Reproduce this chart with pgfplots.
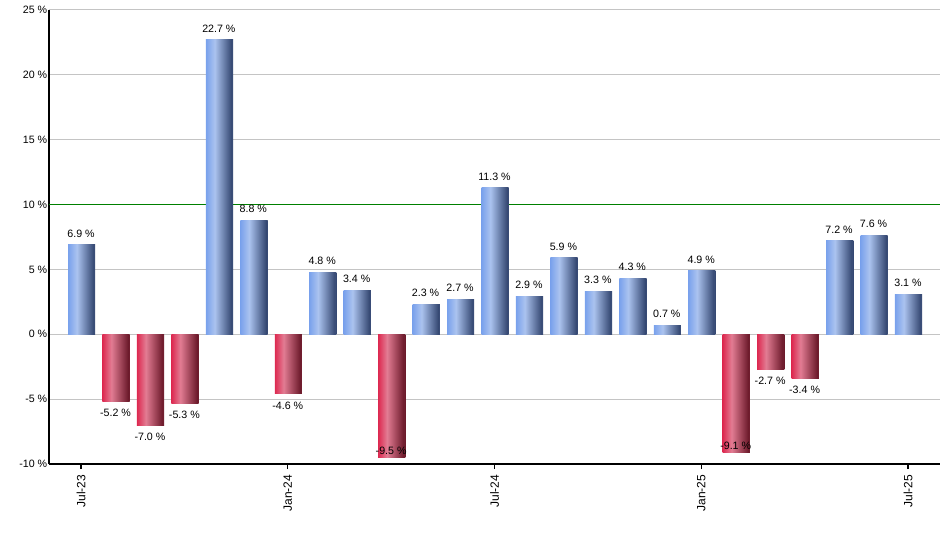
\documentclass[border=0pt]{standalone}
\usepackage{fontspec}
\setmainfont{Liberation Sans}
\usepackage{pgfplots}
\pgfplotsset{compat=1.18}

\definecolor{bL}{HTML}{79A1EC}
\definecolor{bM}{HTML}{ABC3EF}
\definecolor{bR}{HTML}{334670}
\definecolor{rL}{HTML}{DD2950}
\definecolor{rM}{HTML}{E27C93}
\definecolor{rR}{HTML}{6A1829}
\definecolor{gridgray}{HTML}{C4C4C4}
\definecolor{refgreen}{HTML}{008000}

% colour runs left to right across each bar
\pgfdeclarehorizontalshading{bluebar}{100bp}{color(0bp)=(bL); color(25bp)=(bL); color(42bp)=(bM); color(75bp)=(bR); color(100bp)=(bR)}
\pgfdeclarehorizontalshading{redbar}{100bp}{color(0bp)=(rL); color(25bp)=(rL); color(42bp)=(rM); color(75bp)=(rR); color(100bp)=(rR)}

\newcommand\pct{\pgfmathprintnumber[fixed,fixed zerofill,precision=1]{\pgfplotspointmeta}~\%}

\pgfplotsset{
  bar/.style={ybar, bar width=19.5pt, bar shift=0pt, draw=none,
    preaction={fill=black!35, transform canvas={xshift=0.9pt}}},
  up/.style={bar, shading=bluebar, nodes near coords=\pct},
  down/.style={bar, shading=redbar, nodes near coords=\pct},
  % deep bars: label sits inside the bar end
  deep/.style={bar, shading=redbar, nodes near coords=\pct,
    every node near coord/.append style={anchor=south, inner sep=2.2pt}},
}

\begin{document}
\begin{tikzpicture}
\useasboundingbox (-36.75pt,-64.5pt) rectangle (668.25pt,348pt);
\begin{axis}[
  scale only axis,
  width=668.25pt, height=340.5pt,
  xmin=-0.93, xmax=24.93, ymin=-10, ymax=25,
  axis x line*=bottom, axis y line*=left,
  axis line style={-, line width=1.2pt, black},
  xtick={0,6,12,18,24},
  xticklabels={Jul-23,Jan-24,Jul-24,Jan-25,Jul-25},
  ytick={-10,-5,...,25},
  /pgf/number format/assume math mode=true,
  yticklabel={\pgfmathprintnumber{\tick}~\%},
  ymajorgrids,
  major grid style={gridgray, line width=0.75pt},
  tick align=outside,
  ytick style={draw=none},
  xtick style={black, line width=1pt},
  major tick length=3.75pt,
  xticklabel style={rotate=90, anchor=east, inner sep=0pt, xshift=-4.2pt,
    font=\fontsize{9}{10.8}\selectfont},
  yticklabel style={anchor=east, inner sep=0pt, xshift=2.6pt,
    font=\fontsize{8}{9.6}\selectfont},
  every node near coord/.append style={font=\fontsize{8}{9.6}\selectfont, inner sep=5.5pt},
  clip=false,
]
\addplot[refgreen, line width=0.75pt] coordinates {(-0.93,10) (24.93,10)};

\addplot[up]   coordinates {(0,6.9)};
\addplot[down] coordinates {(1,-5.2)};
\addplot[down] coordinates {(2,-7.0)};
\addplot[down] coordinates {(3,-5.3)};
\addplot[up]   coordinates {(4,22.7)};
\addplot[up]   coordinates {(5,8.8)};
\addplot[down] coordinates {(6,-4.6)};
\addplot[up]   coordinates {(7,4.8)};
\addplot[up]   coordinates {(8,3.4)};
\addplot[deep] coordinates {(9,-9.5)};
\addplot[up]   coordinates {(10,2.3)};
\addplot[up]   coordinates {(11,2.7)};
\addplot[up]   coordinates {(12,11.3)};
\addplot[up]   coordinates {(13,2.9)};
\addplot[up]   coordinates {(14,5.9)};
\addplot[up]   coordinates {(15,3.3)};
\addplot[up]   coordinates {(16,4.3)};
\addplot[up]   coordinates {(17,0.7)};
\addplot[up]   coordinates {(18,4.9)};
\addplot[deep] coordinates {(19,-9.1)};
\addplot[down] coordinates {(20,-2.7)};
\addplot[down] coordinates {(21,-3.4)};
\addplot[up]   coordinates {(22,7.2)};
\addplot[up]   coordinates {(23,7.6)};
\addplot[up]   coordinates {(24,3.1)};
\end{axis}
\end{tikzpicture}
\end{document}
